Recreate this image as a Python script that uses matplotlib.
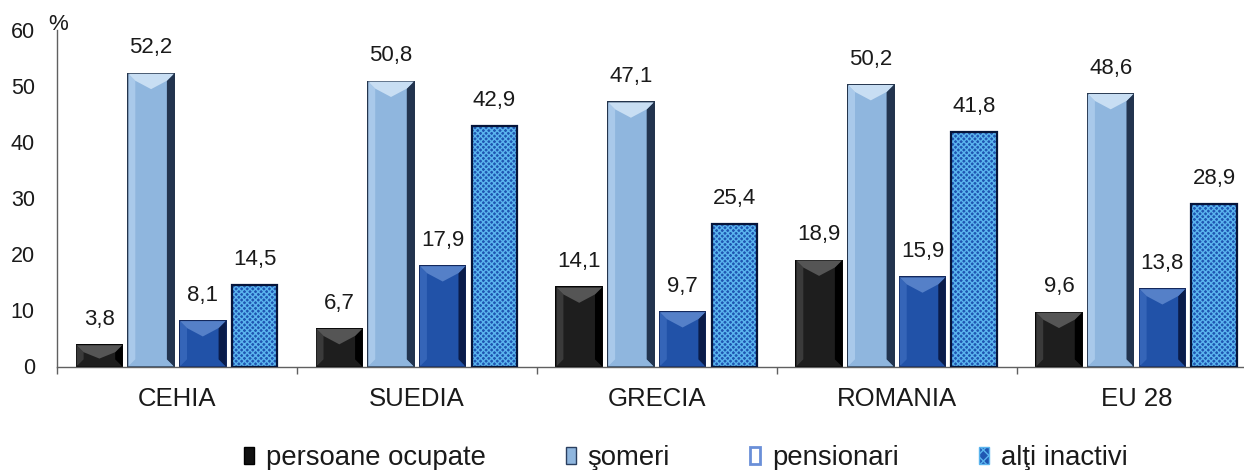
import matplotlib
matplotlib.use("Agg")
import matplotlib.pyplot as plt
from matplotlib.patches import Patch, Polygon
from matplotlib.transforms import IdentityTransform
import numpy as np

categories = ["CEHIA", "SUEDIA", "GRECIA", "ROMANIA", "EU 28"]
series_names = ["persoane ocupate", "şomeri", "pensionari", "alţi inactivi"]
persoane_ocupate = [3.8, 6.7, 14.1, 18.9, 9.6]
someri = [52.2, 50.8, 47.1, 50.2, 48.6]
pensionari = [8.1, 17.9, 9.7, 15.9, 13.8]
alti_inactivi = [14.5, 42.9, 25.4, 41.8, 28.9]
series_values = [persoane_ocupate, someri, pensionari, alti_inactivi]
yticks = [0, 10, 20, 30, 40, 50, 60]

plt.rcParams['font.family'] = ['Liberation Sans', 'DejaVu Sans']
plt.rcParams['hatch.linewidth'] = 1.0

fig = plt.figure(figsize=(12.44, 4.70), dpi=100)
ax = fig.add_axes([57/1244, 103.5/470, (1256.5-57)/1244, 336.5/470])
ax.set_xlim(-0.5, len(categories) - 0.5)
ax.set_ylim(0, 60)

faces = ['#1e1e1e', '#8fb6de', '#2152a8', '#1f56b2']
edges = ['#000000', '#1d2f48', '#0d2258', '#06153a']
highlights = ['#555555', '#c8def3', '#5580c8', None]
lefts = ['#3a3a3a', '#a9c9ea', '#3565b8', None]
rights = ['#000000', '#22344f', '#0a1c4a', None]
hatches = [None, None, None, 'xxxxxx']
spacing = 0.2155
width = 0.19
x = np.arange(len(categories))
offsets = (np.arange(4) - 1.5) * spacing

all_bars = []
for i, vals in enumerate(series_values):
    bars = ax.bar(x + offsets[i], vals, width=width, color=faces[i],
                  edgecolor=edges[i], linewidth=1.4, hatch=hatches[i], zorder=2)
    all_bars.append(bars)
    if hatches[i]:
        for b in bars:
            b.set_edgecolor('#5ab4ee')
        ax.bar(x + offsets[i], vals, width=width, facecolor='none',
               edgecolor=edges[i], linewidth=1.6, zorder=4)
    for xi, v in zip(x + offsets[i], vals):
        ax.annotate(f"{v:.1f}".replace('.', ','), (xi, v), xytext=(0, 11),
                    textcoords='offset points', ha='center', va='bottom',
                    fontsize=16, color='#1a1a1a')

# bevel decoration derived from each drawn bar
fig.canvas.draw()
for i, bars in enumerate(all_bars):
    if highlights[i] is None:
        continue
    for b in bars:
        (x0, y0), (x1, y1) = ax.transData.transform(
            [(b.get_x(), 0), (b.get_x() + b.get_width(), b.get_height())])
        inset = 7
        h = y1 - y0
        d = min(inset, h / 2)
        xc = (x0 + x1) / 2
        v = min(14, h / 2)
        ax.add_patch(Polygon([(x0, y0), (x0 + d, y0 + d), (x0 + d, y1 - d), (x0, y1)],
                             closed=True, facecolor=lefts[i], edgecolor='none',
                             transform=IdentityTransform(), zorder=3))
        ax.add_patch(Polygon([(x1, y0), (x1 - d, y0 + d), (x1 - d, y1 - d), (x1, y1)],
                             closed=True, facecolor=rights[i], edgecolor='none',
                             transform=IdentityTransform(), zorder=3))
        ax.add_patch(Polygon([(x0, y1), (x1, y1), (x1 - d, y1 - d), (xc, y1 - d - v * 0.6),
                              (x0 + d, y1 - d)],
                             closed=True, facecolor=highlights[i], edgecolor='none',
                             transform=IdentityTransform(), zorder=3))
        ax.add_patch(Polygon([(x0, y0), (x1, y0), (x1 - d, y0 + d), (x0 + d, y0 + d)],
                             closed=True, facecolor=faces[i], edgecolor='none',
                             alpha=0.6, transform=IdentityTransform(), zorder=3))

ax.set_yticks(yticks)
ax.set_yticklabels([str(t) for t in yticks])
ax.tick_params(axis='y', length=0, pad=16, labelsize=15.5, labelcolor='#1a1a1a')
ax.set_xticks(x)
ax.set_xticklabels(categories)
ax.tick_params(axis='x', which='major', length=0, pad=14.8, labelsize=18.5,
               labelcolor='#1a1a1a')
ax.set_xticks(np.arange(len(categories) + 1) - 0.5, minor=True)
ax.tick_params(axis='x', which='minor', length=5, width=1, color='#606060',
               direction='out')
for s in ['top', 'right']:
    ax.spines[s].set_visible(False)
for s in ['left', 'bottom']:
    ax.spines[s].set_color('#606060')
    ax.spines[s].set_linewidth(1.0)

fig.text(58/1244, 1 - 25/470, "%", ha='center', va='center', fontsize=16,
         color='#1a1a1a')

handles = [
    Patch(facecolor='#111111', edgecolor='#000000'),
    Patch(facecolor='#8fb6de', edgecolor='#2a3f60'),
    Patch(facecolor='white', edgecolor='#6a8fd8', linewidth=2),
    Patch(facecolor='#1f56b2', edgecolor='#5ab4ee', hatch='xxx'),
]
fs = 19.8
fpx = fs * 100 / 72
fig.legend(handles, series_names, loc='center', ncol=4,
           bbox_to_anchor=(685.5/1244, (470-458)/470), frameon=False,
           fontsize=fs, handlelength=10/fpx, handleheight=15/fpx,
           handletextpad=12/fpx, columnspacing=80/fpx, borderpad=0,
           labelcolor='#1a1a1a')

fig.savefig("out.png", dpi=100)
